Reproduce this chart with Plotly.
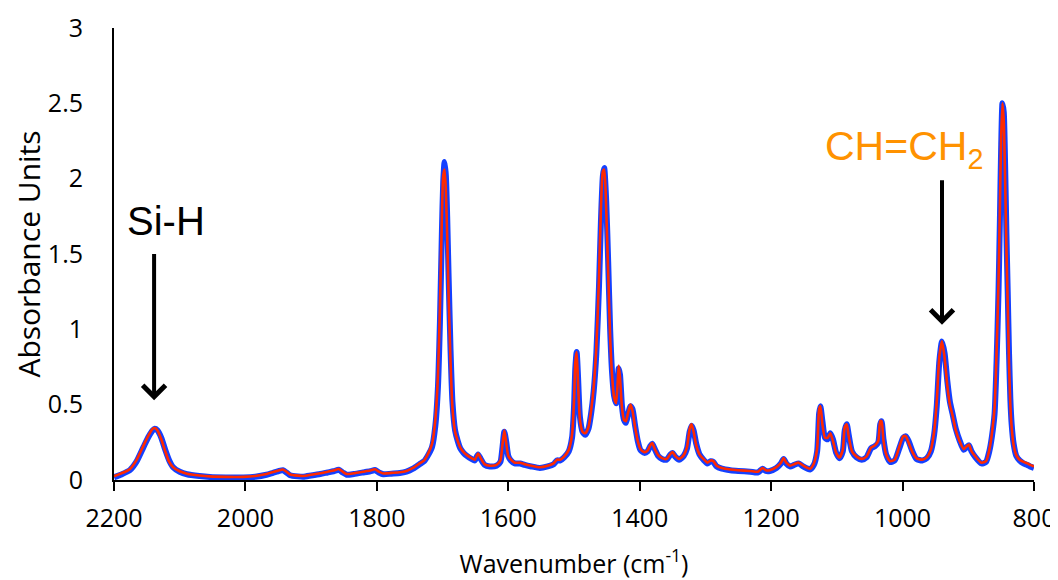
import plotly.graph_objects as go

# Wavenumbers (cm-1), descending
wavenumber = [2200, 2190, 2176, 2166, 2155, 2147, 2141, 2138, 2134, 2128, 2122, 2116, 2110, 2100, 2089,
              2070, 2054, 2030, 2003, 1985, 1968, 1958, 1950, 1943, 1937, 1932, 1920, 1912, 1900, 1886,
              1875, 1866, 1858, 1852, 1846, 1835, 1821, 1810, 1803, 1797, 1790, 1778, 1765, 1755, 1745,
              1735, 1728, 1722, 1716, 1711, 1707, 1704, 1701, 1699, 1697, 1695, 1693, 1691, 1688, 1685,
              1681, 1677, 1673, 1668, 1663, 1656, 1651, 1646, 1642, 1636, 1628, 1618, 1612, 1609, 1606,
              1603, 1600, 1596, 1590, 1582, 1575, 1565, 1552, 1540, 1531, 1526, 1521, 1515, 1508, 1503,
              1500, 1498, 1496, 1494, 1491, 1487, 1483, 1478, 1474, 1470, 1466, 1462, 1459, 1456, 1454,
              1451, 1448, 1445, 1442, 1439, 1436, 1434, 1432, 1430, 1427, 1424, 1421, 1418, 1414, 1411,
              1407, 1403, 1399, 1393, 1388, 1384, 1381, 1377, 1372, 1366, 1359, 1353, 1350, 1346, 1340,
              1333, 1328, 1324, 1321, 1318, 1314, 1309, 1302, 1297, 1292, 1288, 1283, 1275, 1262, 1250,
              1232, 1220, 1213, 1208, 1202, 1192, 1185, 1181, 1177, 1171, 1165, 1158, 1151, 1141, 1135,
              1130, 1127, 1125, 1122, 1118, 1114, 1110, 1106, 1101, 1096, 1091, 1088, 1085, 1082, 1077,
              1070, 1062, 1055, 1048, 1042, 1037, 1034, 1032, 1029, 1025, 1019, 1012, 1005, 999, 995,
              991, 985, 979, 970, 963, 957, 952, 948, 944, 940, 936, 932, 928, 924, 919,
              913, 907, 902, 899, 895, 889, 880, 873, 868, 864, 860, 857, 854, 852, 850,
              848, 846, 844, 842, 840, 838, 836, 834, 831, 827, 822, 816, 810, 806, 800]

# Sample 1 (blue)
absorbance_blue = [0.018, 0.035, 0.065, 0.12, 0.22, 0.29, 0.33, 0.34, 0.33, 0.28, 0.20, 0.13, 0.085, 0.055, 0.038,
                   0.026, 0.020, 0.017, 0.017, 0.022, 0.035, 0.048, 0.058, 0.065, 0.048, 0.032, 0.024, 0.022, 0.030, 0.040,
                   0.050, 0.058, 0.068, 0.050, 0.035, 0.040, 0.050, 0.058, 0.066, 0.050, 0.038, 0.042, 0.046, 0.055, 0.075,
                   0.105, 0.125, 0.165, 0.22, 0.36, 0.62, 1.05, 1.65, 1.98, 2.11, 2.02, 1.75, 1.38, 0.88, 0.52,
                   0.33, 0.26, 0.21, 0.18, 0.16, 0.14, 0.13, 0.17, 0.14, 0.10, 0.09, 0.095, 0.12, 0.21, 0.32,
                   0.25, 0.16, 0.13, 0.11, 0.11, 0.10, 0.09, 0.08, 0.09, 0.105, 0.13, 0.13, 0.15, 0.19, 0.28,
                   0.48, 0.74, 0.85, 0.70, 0.42, 0.32, 0.30, 0.34, 0.44, 0.59, 0.84, 1.28, 1.72, 2.02, 2.07,
                   1.85, 1.45, 1.00, 0.71, 0.56, 0.51, 0.59, 0.74, 0.70, 0.49, 0.40, 0.38, 0.43, 0.49, 0.47,
                   0.36, 0.26, 0.20, 0.18, 0.19, 0.225, 0.24, 0.205, 0.16, 0.14, 0.135, 0.17, 0.18, 0.155, 0.135,
                   0.16, 0.21, 0.32, 0.36, 0.33, 0.24, 0.17, 0.13, 0.11, 0.125, 0.12, 0.09, 0.075, 0.065, 0.06,
                   0.055, 0.05, 0.075, 0.06, 0.06, 0.08, 0.11, 0.14, 0.11, 0.09, 0.10, 0.11, 0.09, 0.07, 0.10,
                   0.19, 0.44, 0.49, 0.39, 0.28, 0.27, 0.31, 0.27, 0.18, 0.145, 0.19, 0.33, 0.37, 0.30, 0.19,
                   0.15, 0.135, 0.15, 0.21, 0.225, 0.25, 0.37, 0.39, 0.27, 0.17, 0.12, 0.13, 0.21, 0.28, 0.29,
                   0.26, 0.19, 0.14, 0.13, 0.145, 0.19, 0.30, 0.49, 0.79, 0.92, 0.84, 0.66, 0.52, 0.44, 0.34,
                   0.26, 0.20, 0.22, 0.23, 0.19, 0.15, 0.11, 0.12, 0.19, 0.29, 0.44, 0.78, 1.25, 1.70, 2.20,
                   2.50, 2.44, 2.10, 1.64, 1.25, 0.84, 0.54, 0.37, 0.24, 0.16, 0.13, 0.11, 0.10, 0.09, 0.08]

# Sample 2 (red)
absorbance_red = [0.025, 0.042, 0.072, 0.13, 0.23, 0.30, 0.34, 0.345, 0.33, 0.27, 0.19, 0.12, 0.085, 0.058, 0.042,
                  0.030, 0.024, 0.021, 0.021, 0.027, 0.040, 0.053, 0.063, 0.070, 0.053, 0.037, 0.029, 0.027, 0.035, 0.045,
                  0.055, 0.063, 0.073, 0.055, 0.040, 0.045, 0.055, 0.063, 0.071, 0.055, 0.043, 0.047, 0.051, 0.060, 0.080,
                  0.11, 0.13, 0.175, 0.24, 0.40, 0.70, 1.15, 1.75, 2.02, 2.06, 1.92, 1.62, 1.25, 0.80, 0.48,
                  0.32, 0.26, 0.215, 0.185, 0.165, 0.145, 0.135, 0.175, 0.145, 0.105, 0.095, 0.10, 0.13, 0.23, 0.33,
                  0.24, 0.16, 0.135, 0.115, 0.115, 0.105, 0.095, 0.085, 0.095, 0.11, 0.135, 0.135, 0.155, 0.20, 0.30,
                  0.52, 0.78, 0.85, 0.66, 0.40, 0.32, 0.31, 0.35, 0.46, 0.62, 0.88, 1.34, 1.80, 2.05, 2.06,
                  1.80, 1.38, 0.95, 0.69, 0.55, 0.51, 0.61, 0.76, 0.68, 0.48, 0.40, 0.39, 0.44, 0.50, 0.46,
                  0.35, 0.26, 0.205, 0.185, 0.195, 0.23, 0.245, 0.205, 0.165, 0.145, 0.14, 0.175, 0.185, 0.16, 0.14,
                  0.165, 0.22, 0.34, 0.37, 0.32, 0.23, 0.17, 0.135, 0.115, 0.13, 0.125, 0.095, 0.08, 0.07, 0.065,
                  0.06, 0.055, 0.08, 0.065, 0.065, 0.085, 0.115, 0.145, 0.115, 0.095, 0.105, 0.115, 0.095, 0.075, 0.11,
                  0.21, 0.47, 0.49, 0.37, 0.28, 0.28, 0.31, 0.26, 0.18, 0.15, 0.20, 0.35, 0.37, 0.29, 0.19,
                  0.155, 0.14, 0.155, 0.215, 0.23, 0.26, 0.39, 0.39, 0.26, 0.17, 0.125, 0.135, 0.22, 0.29, 0.29,
                  0.25, 0.185, 0.145, 0.135, 0.15, 0.20, 0.32, 0.52, 0.82, 0.92, 0.81, 0.63, 0.50, 0.43, 0.33,
                  0.255, 0.205, 0.225, 0.235, 0.19, 0.155, 0.115, 0.125, 0.20, 0.31, 0.48, 0.84, 1.32, 1.78, 2.27,
                  2.50, 2.38, 2.00, 1.55, 1.17, 0.77, 0.50, 0.35, 0.23, 0.165, 0.135, 0.12, 0.11, 0.10, 0.09]

x_ticks = [2200, 2000, 1800, 1600, 1400, 1200, 1000, 800]
y_ticks = [0, 0.5, 1, 1.5, 2, 2.5, 3]

fig = go.Figure()
fig.add_trace(go.Scatter(x=wavenumber, y=absorbance_blue, mode="lines",
                         line=dict(color="#1440FF", width=6, shape="spline", smoothing=0.6),
                         showlegend=False, hoverinfo="skip"))
fig.add_trace(go.Scatter(x=wavenumber, y=absorbance_red, mode="lines",
                         line=dict(color="#FF2A00", width=2.6, shape="spline", smoothing=0.6),
                         showlegend=False, hoverinfo="skip"))

fig.add_annotation(x=2139, y=0.53, ax=2139, ay=1.51, xref="x", yref="y", axref="x", ayref="y",
                   showarrow=True, arrowhead=4, arrowsize=1.1, arrowwidth=4, arrowcolor="black", text="")
fig.add_annotation(x=940, y=1.03, ax=940, ay=2.0, xref="x", yref="y", axref="x", ayref="y",
                   showarrow=True, arrowhead=4, arrowsize=1.1, arrowwidth=4, arrowcolor="black", text="")
fig.add_annotation(x=2121, y=1.72, xref="x", yref="y", text="Si-H", showarrow=False,
                   font=dict(family="Liberation Sans, Arial", size=40, color="black"),
                   xanchor="center", yanchor="middle")
fig.add_annotation(x=1121, y=2.20, xref="x", yref="y", text="CH=CH<sub>2</sub>", showarrow=False,
                   font=dict(family="Liberation Sans, Arial", size=41, color="#FF9200"),
                   xanchor="left", yanchor="middle")

fig.update_layout(
    width=1058, height=580,
    margin=dict(l=106, r=32, t=20, b=108),
    plot_bgcolor="white", paper_bgcolor="white",
    font=dict(family="Open Sans", color="black"),
)
fig.update_xaxes(range=[2200, 800], tickvals=x_ticks, showgrid=False, zeroline=False,
                 showline=True, linecolor="black", linewidth=2, automargin=False,
                 ticks="outside", ticklen=9, tickwidth=2, tickcolor="black",
                 tickfont=dict(size=25), ticklabelstandoff=6,
                 title=dict(text="Wavenumber (cm<sup>-1</sup>)", font=dict(size=25), standoff=22))
fig.update_yaxes(range=[0, 3], tickvals=y_ticks, ticktext=["0", "0.5", "1", "1.5", "2", "2.5", "3"],
                 showgrid=False, zeroline=False, automargin=False,
                 showline=True, linecolor="black", linewidth=2, ticks="",
                 tickfont=dict(size=25), ticklabelstandoff=24,
                 title=dict(text="Absorbance Units", font=dict(size=30), standoff=6))

fig.write_html("out.html")
